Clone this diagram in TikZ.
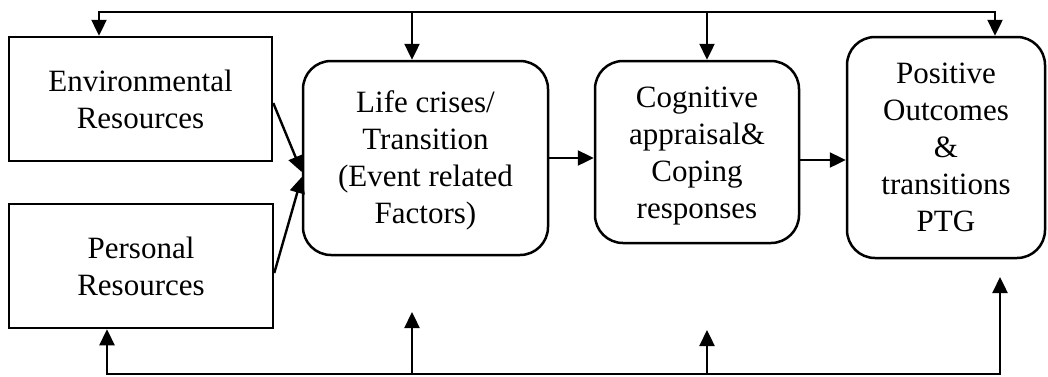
\documentclass[tikz,border=0pt]{standalone}
\usepackage{fontspec}
\setmainfont{Liberation Serif}
\usetikzlibrary{arrows.meta}
% stacked centred lines, lowered by #1 without changing the box's reported size
\newcommand{\lowstack}[2]{\raisebox{-#1}[\height][\depth]{\begin{tabular}{@{}c@{}}#2\end{tabular}}}
\begin{document}
\begin{tikzpicture}[x=1pt,y=-1pt,
  sq/.style={draw, line width=2.5pt, rectangle, align=center, inner sep=0pt,
             font=\fontsize{31}{37}\selectfont},
  rnd/.style={sq, rounded corners=28pt},
  bus/.style={line width=2.4pt},
  tip/.tip={Triangle[length=16pt,width=15pt]},
  link/.style={bus, -tip}]
\useasboundingbox (0,0) rectangle (1048,376);

% resource boxes and process stages
\node[sq, minimum width=263pt, minimum height=124pt] (env) at (140.5,99) {Environmental\\Resources};
\node[sq, minimum width=264pt, minimum height=124pt] (pers) at (141,266) {Personal\\Resources};
\node[rnd, minimum width=245pt, minimum height=194pt] (life) at (425.5,158) {\lowstack{3pt}{Life crises/\\Transition\\(Event related\\Factors)}};
\node[rnd, minimum width=204pt, minimum height=182pt] (cog) at (697,152) {\lowstack{4pt}{Cognitive\\appraisal\&\\Coping\\responses}};
\node[rnd, minimum width=198pt, minimum height=221pt] (pos) at (946,147.5) {Positive\\Outcomes\\\&\\transitions\\PTG};

% feedback bus along the top
\coordinate (t1) at (99,12);
\coordinate (t2) at (412,12);
\coordinate (t3) at (707,12);
\coordinate (t4) at (995,12);
\draw[bus, tip-tip] (t1 |- env.north) -- (t1) -- (t4) -- (t4 |- pos.north);
\draw[link] (t2) -- (t2 |- life.north);
\draw[link] (t3) -- (t3 |- cog.north);

% feedback bus along the bottom
\coordinate (b1) at (107,374);
\coordinate (b2) at (412,374);
\coordinate (b3) at (707,374);
\coordinate (b4) at (1000,374);
\coordinate (e2) at (412,312);
\coordinate (e3) at (707,330);
\coordinate (e4) at (1000,277);
\draw[bus, tip-tip] (b1 |- pers.south) -- (b1) -- (b4) -- (e4);
\draw[link] (b2) -- (e2);
\draw[link] (b3) -- (e3);

% main flow
\draw[link] ([yshift=-4pt]env.east) -- ([yshift=-14pt]life.west);
\draw[link] ([yshift=-7pt]pers.east) -- ([yshift=-19pt]life.west);
\draw[link] (life.east) -- (life.east -| cog.west);
\draw[link] ([yshift=-8pt]cog.east) -- ([yshift=-8pt]cog.east -| pos.west);
\end{tikzpicture}
\end{document}
